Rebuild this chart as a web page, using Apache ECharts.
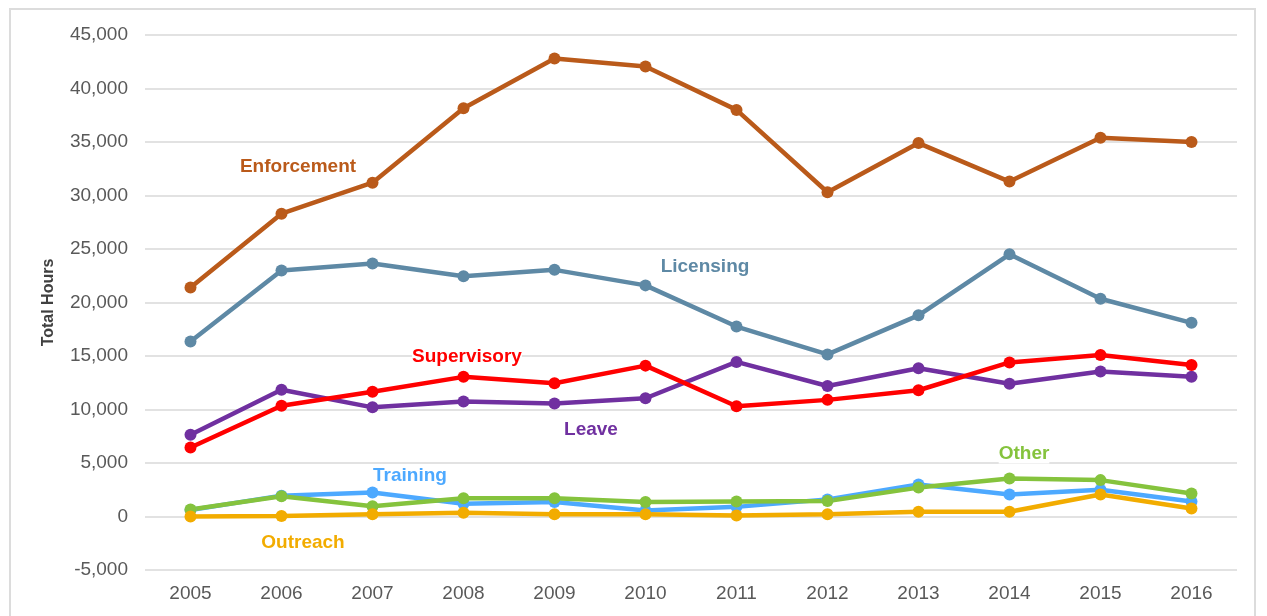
<!DOCTYPE html>
<html>
<head>
<meta charset="utf-8">
<script src="https://cdn.jsdelivr.net/npm/echarts@6/dist/echarts.min.js"></script>
<style>
    html, body { margin: 0; padding: 0; background: #fff; }
    #frame {
        position: absolute; left: 9px; top: 8px; width: 1247px; height: 640px;
        border: 2px solid #dcdcdc; box-sizing: border-box;
    }
    #chart { position: absolute; left: 0; top: 0; width: 1267px; height: 616px; }
</style>
</head>
<body>
<div id="frame"></div>
<div id="chart"></div>
<script>
const years = ['2005', '2006', '2007', '2008', '2009', '2010', '2011', '2012', '2013', '2014', '2015', '2016']

const enforcement = [21400, 28300, 31200, 38150, 42800, 42050, 38000, 30300, 34900, 31300, 35400, 35000]
const licensing = [16350, 23000, 23650, 22450, 23050, 21600, 17750, 15150, 18800, 24500, 20350, 18100]
const supervisory = [6450, 10350, 11650, 13050, 12450, 14100, 10300, 10900, 11800, 14400, 15100, 14150]
const leave = [7650, 11850, 10200, 10750, 10550, 11050, 14450, 12200, 13850, 12400, 13550, 13050]
const training = [600, 1950, 2250, 1200, 1350, 550, 900, 1600, 3000, 2050, 2500, 1400]
const other = [650, 1900, 950, 1700, 1700, 1350, 1400, 1450, 2700, 3550, 3400, 2150]
const outreach = [0, 50, 200, 350, 200, 200, 100, 200, 450, 450, 2050, 750]

const yTicks = { min: -5000, max: 45000, step: 5000 }

// series label text and where it sits on the picture
const seriesLabels = [
    { text: 'Enforcement', color: '#BA5A1A', x: 298, y: 167 },
    { text: 'Licensing', color: '#5E89A5', x: 705, y: 267 },
    { text: 'Supervisory', color: '#FF0000', x: 467, y: 357 },
    { text: 'Leave', color: '#7030A0', x: 591, y: 430 },
    { text: 'Training', color: '#4DA9FF', x: 410, y: 476 },
    { text: 'Other', color: '#85C33D', x: 1024, y: 454 },
    { text: 'Outreach', color: '#F2AC00', x: 303, y: 543 }
]

const myChart = echarts.init(document.getElementById('chart'))

function lineSeries(name, data, color) {
    return {
        name: name,
        type: 'line',
        data: data,
        symbol: 'circle',
        symbolSize: 12,
        lineStyle: { width: 4.5, color: color },
        itemStyle: { color: color },
        emphasis: { disabled: true }
    }
}

const option = {
    animation: false,
    textStyle: { fontFamily: 'Liberation Sans, Arial, sans-serif' },
    grid: { left: 145, right: 30, top: 35, bottom: 46 },
    xAxis: {
        type: 'category',
        data: years,
        boundaryGap: true,
        axisLine: { show: false, onZero: false },
        axisTick: { show: false },
        axisLabel: { color: '#595959', fontSize: 19, margin: 14 }
    },
    yAxis: {
        type: 'value',
        min: yTicks.min,
        max: yTicks.max,
        interval: yTicks.step,
        name: 'Total Hours',
        nameLocation: 'middle',
        nameGap: 88,
        nameRotate: 90,
        nameTextStyle: { color: '#404040', fontSize: 16, fontWeight: 'bold' },
        axisLine: { show: false },
        axisTick: { show: false },
        splitLine: { lineStyle: { color: '#d9d9d9', width: 1.5 } },
        axisLabel: {
            color: '#595959', fontSize: 19, margin: 17,
            formatter: (v) => v.toLocaleString('en-US')
        }
    },
    series: [
        lineSeries('Enforcement', enforcement, '#BA5A1A'),
        lineSeries('Licensing', licensing, '#5E89A5'),
        lineSeries('Leave', leave, '#7030A0'),
        lineSeries('Supervisory', supervisory, '#FF0000'),
        lineSeries('Training', training, '#4DA9FF'),
        lineSeries('Other', other, '#85C33D'),
        lineSeries('Outreach', outreach, '#F2AC00')
    ],
    graphic: seriesLabels.map(l => ({
        type: 'text',
        x: l.x,
        y: l.y,
        z: 10,
        style: {
            text: l.text,
            fill: l.color,
            font: 'bold 19px "Liberation Sans", Arial, sans-serif',
            align: 'center',
            verticalAlign: 'middle',
            backgroundColor: '#fff'
        }
    }))
}

myChart.setOption(option)
</script>
</body>
</html>
